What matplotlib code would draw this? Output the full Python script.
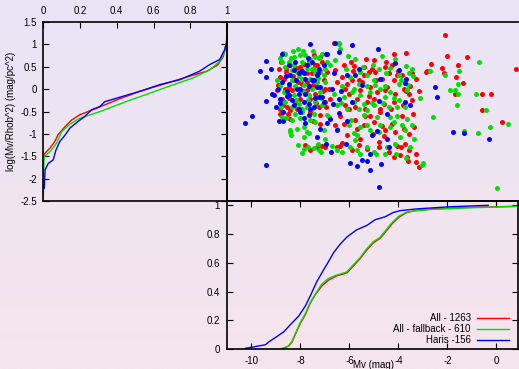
import matplotlib
matplotlib.use("Agg")
import matplotlib.pyplot as plt
import numpy as np
from matplotlib.ticker import FuncFormatter

plt.rcParams["font.family"] = ["Liberation Sans", "DejaVu Sans"]
plt.rcParams["font.size"] = 7

RED = "#ff0000"
GREEN = "#00e000"
BLUE = "#0000ff"

labels = ["All - 1263", "All - fallback - 610", "Haris -156"]

# scatter: Mv (mag) vs log(Mv/Rhob^2)
red_x = [-2.08, -2.03, -1.20, 0.78, -2.67, -2.21, -1.55, -2.16, -1.67, -1.37, -1.69, -0.59, -0.21, -0.57, -2.84, 0.24,
         -6.62, -5.31, -4.20, -3.69, -2.88, -6.21, -5.83, -5.42, -5.01, -4.54, -4.27, -3.86, -3.45, -3.27, -3.52, -3.76,
         -3.18, -6.58, -6.31, -6.10, -5.90, -5.63, -5.42, -5.22, -4.95, -4.67, -4.40, -4.20, -4.06, -5.56, -5.15, -4.88,
         -4.54, -4.13, -3.59, -6.03, -5.69, -5.29, -5.01, -4.61, -4.20, -3.82, -3.45, -6.17, -5.76, -5.35, -4.74, -6.85,
         -6.51, -6.78,
         -6.58, -6.24, -5.76, -5.42, -5.01, -4.67, -4.27, -3.79, -3.35, -4.06, -3.59, -3.27, -3.95, -4.20, -5.29, -5.90,
         -6.51, -6.37, -5.56, -4.81, -4.40, -3.65, -6.10, -5.18, -4.54, -3.72,
         -8.82, -8.44, -7.49, -7.19, -7.80, -7.33, -7.12, -7.19,
         -8.82, -8.69, -8.58, -8.41, -8.21, -8.07, -7.87, -7.33, -7.12, -8.62, -8.35, -7.94, -7.73, -7.39, -6.99, -8.82,
         -8.55, -8.21, -8.01, -7.60, -7.26, -7.00, -8.41, -8.96, -8.76, -7.53, -7.73, -8.28, -8.48, -7.05, -6.92, -8.89,
         -7.46, -7.19,
         -8.90, -8.70, -8.60, -8.45, -8.30, -8.15, -8.00, -7.90, -7.75, -7.60, -7.50, -7.35, -7.20, -7.10, -6.95, -8.80,
         -8.50, -8.10, -7.65, -7.40,
         -6.40, -6.20, -6.00, -5.85, -5.70, -5.50, -5.35, -5.20, -5.05, -4.90, -4.75, -4.60, -4.45, -4.30, -4.15, -4.00,
         -3.85, -3.70, -3.55, -3.40, -5.95, -5.10, -4.50, -3.90, -4.80, -5.60, -6.30, -7.00, -7.60, -3.30, -3.60, -3.15]
red_y = [1.22, 0.73, 0.72, 0.45, 0.57, 0.48, 0.55, 0.36, 0.27, 0.14, -0.12, -0.10, -0.10, -0.46, 0.40, -0.73,
         1.04, 0.68, 0.79, 0.81, 0.38, 0.55, 0.51, 0.49, 0.64, 0.49, 0.53, 0.31, 0.37, 0.22, 0.08, 0.01,
         -0.05, 0.42, 0.27, 0.12, 0.20, 0.20, 0.31, 0.38, 0.38, 0.23, 0.35, 0.20, 0.31, -0.03, 0.05, -0.06,
         -0.03, -0.10, -0.10, -0.10, -0.21, -0.29, -0.21, -0.33, -0.29, -0.36, -0.25, -0.36, -0.40, -0.45, -0.44, 0.01,
         0.16, -0.21,
         -0.81, -0.77, -0.70, -0.81, -0.73, -0.82, -0.77, -0.88, -0.85, -1.26, -1.37, -1.63, -1.48, -1.52, -1.33, -1.37,
         -1.29, -1.28, -1.12, -1.18, -1.41, -1.52, -1.03, -0.60, -0.92, -1.22,
         -0.55, -0.66, -0.72, -0.79, -1.24, -1.29, -1.26, -0.58,
         0.27, 0.23, 0.38, 0.53, 0.49, 0.46, 0.57, 0.53, 0.61, 0.01, -0.03, 0.12, -0.03, -0.10, 0.01, -0.45,
         -0.40, -0.29, -0.21, -0.21, -0.40, -0.29, -0.47, -0.03, -0.21, 0.35, 0.16, 0.20, 0.05, 0.20, 0.38, 0.46,
         0.76, 0.72,
         0.10, -0.35, 0.45, -0.20, 0.30, -0.45, 0.50, -0.05, 0.35, -0.50, 0.10, -0.30, 0.40, -0.05, -0.40, 0.60,
         -0.55, 0.15, 0.62, 0.55,
         -0.60, 0.00, -0.45, 0.40, -0.90, 0.15, -0.60, -0.15, -1.00, 0.20, -0.50, -1.05, 0.05, -0.45, -0.95, 0.40,
         -0.60, -0.05, -1.00, -0.55, 0.60, 0.45, 0.60, -1.30, -1.30, -1.25, -1.20, -1.30, -1.35, -1.45, -1.60, -1.75]

green_x = [-8.12, -8.62, -8.76, -8.28, -8.01, -7.80, -7.60, -7.39, -7.12, -7.94, -7.67, -8.35, -8.14, -7.46, -7.19,
           -8.55, -8.35, -7.94, -7.60, -7.33, -7.05, -8.55, -8.28, -7.87, -7.53, -7.19, -7.67, -8.07, -7.73, -7.39,
           -7.12, -8.35, -7.94, -7.53, -8.62, -8.69, -8.82, -8.21, -7.39, -7.73, -6.92, -6.99, -8.48, -8.28, -6.42,
           -8.70,
           -8.76, -8.41, -8.39, -8.44, -8.14, -7.87, -7.73, -7.84, -7.67, -7.94, -7.87, -7.44, -7.26, -7.30, -7.05,
           -6.99, -8.21, -7.39, -8.35, -7.60, -6.92,
           -6.41, -6.37, -6.07, -5.76, -4.67, -3.69, -3.11, -6.78, -6.58, -5.04, -4.33, -3.99, -3.58, -5.29, -5.56,
           -5.97, -6.31, -5.63, -5.29, -5.01, -4.54, -3.99, -3.65, -4.33, -4.74, -5.15, -5.56, -5.90, -6.24, -5.83,
           -5.42, -5.01, -4.54, -3.99, -4.06, -4.40, -5.29, -6.10, -6.51, -6.65, -4.81, -4.13, -3.45, -3.41,
           -6.85, -6.71, -6.31, -5.97, -5.76, -5.69, -5.56, -5.01, -4.54, -4.13, -3.93, -3.72, -3.35, -3.52, -3.04,
           -3.00, -6.03, -5.56, -5.15, -4.74, -4.20, -3.86, -5.83, -5.42, -4.88, -4.33, -3.65, -6.51,
           -2.57, -1.34, -0.77, -0.28, 0.46, 0.02,
           -0.73, -2.70, -2.09, -1.52, -1.57, -1.88, -1.68, -1.55, -0.82, -1.59, -0.44,
           -8.95, -8.80, -8.65, -8.50, -8.40, -8.20, -8.05, -7.95, -7.85, -7.70, -7.55, -7.45, -7.30, -7.15, -7.00,
           -8.30, -7.90, -7.50, -8.60, -8.00, -7.25, -8.85,
           -6.35, -6.15, -5.95, -5.80, -5.60, -5.45, -5.30, -5.10, -4.95, -4.80, -4.65, -4.50, -4.35, -4.20, -4.05,
           -3.90, -3.75, -3.60, -3.45, -5.70, -5.30, -4.90, -4.45, -6.50, -7.15, -7.70, -8.10, -4.10, -3.70]
green_y = [0.90, 0.79, 0.61, 0.72, 0.76, 0.76, 0.68, 0.72, 0.79, 0.61, 0.57, 0.42, 0.38, 0.46, 0.38,
           0.31, 0.20, 0.23, 0.23, 0.16, 0.31, -0.06, -0.14, -0.06, 0.01, -0.06, -0.14, -0.33, -0.40, -0.29,
           -0.36, -0.40, -0.45, -0.45, -0.29, -0.06, 0.08, 0.08, 0.35, 0.46, 0.61, 0.46, 0.61, 0.53, 1.01,
           0.80,
           -0.62, -0.96, -1.03, -0.92, -0.88, -0.85, -0.96, -1.07, -0.99, -1.42, -1.33, -1.32, -1.37, -1.22, -0.92,
           -1.11, -0.55, -0.73, -0.70, -0.70, -0.58,
           1.02, 0.90, 0.74, 0.67, 0.74, 0.51, -0.20, 0.53, 0.64, 0.53, 0.47, 0.31, 0.35, 0.31, 0.38,
           0.27, 0.08, 0.12, 0.08, 0.20, 0.08, 0.12, -0.03, -0.06, 0.01, -0.06, -0.14, -0.06, -0.18, -0.29,
           -0.33, -0.36, -0.18, -0.25, -0.40, -0.40, -0.47, -0.44, -0.36, -0.10, 0.46, 0.68, 0.46, 0.29,
           -0.62, -1.26, -1.40, -1.29, -1.14, -1.03, -1.44, -1.40, -1.44, -1.22, -1.07, -0.92, -1.11, -1.29, -1.70,
           -1.64, -0.81, -0.85, -0.92, -0.81, -0.73, -0.81, -0.99, -0.58, -0.62, -0.62, -0.66, -0.88,
           -0.63, -0.94, -0.98, -0.85, -0.77, -2.21,
           0.61, 0.40, 0.31, 0.40, 0.12, -0.03, -0.03, -0.12, -0.12, -0.35, -0.47,
           0.20, -0.40, 0.50, -0.10, 0.70, -0.25, 0.30, -0.50, 0.10, -0.25, 0.45, -0.55, 0.25, -0.20, 0.15,
           0.85, 0.85, 0.85, -0.65, -0.65, 0.70, 0.70,
           -0.30, 0.45, -0.70, 0.00, -0.45, 0.50, -0.80, -0.30, 0.10, -0.95, -0.30, 0.35, -0.85, -0.20, -0.60,
           0.20, -0.40, 0.10, -0.80, -1.35, -1.30, -1.45, -1.30, -1.35, -1.40, -1.30, -1.25, -1.45, -1.55]

blue_x = [-7.60, -8.74, -9.42, -9.64, -9.39, -9.19, -9.16, -9.07, -9.42, -8.82, -8.85, -8.55, -8.76, -8.41, -8.28,
          -8.07, -7.80, -7.46, -7.26, -7.05, -6.96, -8.01, -7.67, -7.33, -7.12, -8.48, -8.07, -7.87, -8.28, -7.46,
          -8.07, -7.67, -7.26, -7.05, -8.48, -7.73, -7.53, -8.21, -7.87, -7.33,
          -6.58, -6.44, -5.91, -4.85, -4.13, -3.99, -6.92, -6.65, -6.10, -5.76, -5.63, -5.49, -4.74, -3.68, -3.72,
          -6.71, -6.35, -6.44, -5.90, -4.81, -6.67, -3.72, -3.54,
          -6.44, -6.78, -6.51, -6.10, -5.08, -4.88, -4.47, -4.40, -6.75, -6.14, -5.15, -5.99, -5.69, -5.49, -5.29,
          -4.71, -5.18, -4.80, -4.47,
          -9.98, -10.27, -9.42, -8.89, -8.71, -7.87, -7.67, -7.80, -7.33, -7.22, -6.97, -6.92,
          -1.79, -1.31, -0.32, -2.50, -2.43,
          -8.90, -8.70, -8.60, -8.35, -8.20, -8.00, -7.95, -7.80, -7.55, -7.40, -7.20, -8.45, -7.60, -8.15, -7.70,
          -9.00, -8.55, -7.30]
blue_y = [1.00, 0.79, 0.62, 0.41, 0.28, 0.44, -0.10, -0.14, -0.27, -0.23, -0.30, -0.16, 0.16, 0.31, 0.42,
          0.35, 0.23, 0.20, 0.46, 0.53, 0.79, 0.01, 0.08, 0.05, -0.18, -0.14, -0.10, -0.29, -0.36, -0.40,
          -0.44, -0.33, -0.18, -0.29, 0.12, 0.53, 0.61, 0.61, 0.35, 0.31,
          1.04, 0.84, 0.98, 0.90, 0.59, 0.43, 0.79, 0.35, 0.31, 0.31, 0.46, 0.10, 0.22, 0.22, 0.14,
          0.01, -0.05, -0.21, -0.29, -0.27, -0.33, -0.29, -0.36,
          -0.53, -0.66, -0.92, -0.72, -1.02, -0.94, -1.11, -1.29, -1.40, -1.23, -1.44, -1.64, -1.72, -1.59, -1.61,
          -1.67, -1.81, -2.19, -0.55,
          -0.60, -0.75, -1.69, -0.72, -0.72, -0.64, -0.57, -0.75, -1.07, -0.90, -1.22, -0.75,
          -0.96, -0.99, -1.11, 0.055, -0.18,
          0.00, -0.50, 0.30, -0.25, 0.20, -0.50, 0.40, -0.10, 0.20, -0.20, 0.05, 0.55, -0.45, 0.00, 0.70,
          -0.40, -0.05, 0.35]

# cumulative distributions of log(Mv/Rhob^2) (fraction, value)
red_cum_f = [0.0, 0.005, 0.036, 0.063, 0.08, 0.118, 0.154, 0.2, 0.27, 0.4, 0.525, 0.67, 0.78, 0.89, 0.95, 0.98, 0.996, 1.0]
red_cum_v = [-1.6, -1.45, -1.32, -1.17, -1.02, -0.84, -0.69, -0.57, -0.46, -0.24, -0.05, 0.13, 0.27, 0.40, 0.54, 0.73, 1.03, 1.2]
green_cum_f = [0.0, 0.004, 0.036, 0.072, 0.1, 0.145, 0.2, 0.31, 0.45, 0.58, 0.71, 0.815, 0.906, 0.96, 0.987, 0.996]
green_cum_v = [-2.5, -1.51, -1.40, -1.21, -0.95, -0.78, -0.65, -0.50, -0.28, -0.09, 0.10, 0.25, 0.43, 0.62, 0.81, 0.99]
blue_cum_f = [0.005, 0.01, 0.027, 0.054, 0.069, 0.09, 0.118, 0.145, 0.19, 0.226, 0.263, 0.308, 0.335, 0.417,
              0.525, 0.634, 0.743, 0.851, 0.906, 0.96, 0.987, 0.996]
blue_cum_v = [-2.22, -1.80, -1.66, -1.58, -1.36, -1.17, -1.03, -0.87, -0.72, -0.61, -0.46, -0.39, -0.28, -0.18,
              -0.05, 0.10, 0.21, 0.40, 0.55, 0.66, 0.88, 1.01]

# cumulative distributions of Mv (mag, fraction)
red_mv = [-8.78, -8.48, -8.34, -8.14, -8.0, -7.80, -7.60, -7.39, -7.12, -6.85, -6.51, -6.10, -5.83, -5.56, -5.29,
          -5.02, -4.75, -4.55, -4.27, -3.96, -3.66, -3.26, -2.58, -1.22, 0.88]
red_mv_f = [0.0, 0.02, 0.05, 0.13, 0.18, 0.24, 0.32, 0.38, 0.44, 0.48, 0.51, 0.53, 0.58, 0.63, 0.69,
            0.74, 0.77, 0.81, 0.87, 0.92, 0.95, 0.965, 0.975, 0.985, 0.993]
green_mv = [-8.80, -8.50, -8.36, -8.15, -8.02, -7.82, -7.61, -7.40, -7.14, -6.87, -6.52, -6.12, -5.85, -5.57, -5.31,
            -5.04, -4.77, -4.57, -4.29, -3.98, -3.68, -3.28, -2.60, -1.24, 0.88]
green_mv_f = [0.0, 0.02, 0.05, 0.13, 0.18, 0.24, 0.32, 0.38, 0.45, 0.49, 0.515, 0.535, 0.585, 0.635, 0.695,
              0.745, 0.775, 0.815, 0.875, 0.925, 0.952, 0.963, 0.972, 0.982, 0.993]
blue_mv = [-10.24, -9.9, -9.43, -9.29, -9.02, -8.68, -8.41, -8.07, -7.80, -7.60, -7.33, -7.06, -6.85, -6.65, -6.38,
           -6.10, -5.70, -5.29, -4.95, -4.55, -4.21, -3.93, -3.26, -1.90, -0.34]
blue_mv_f = [0.005, 0.015, 0.03, 0.05, 0.08, 0.12, 0.17, 0.23, 0.30, 0.37, 0.47, 0.55, 0.61, 0.67, 0.73,
             0.78, 0.83, 0.86, 0.90, 0.92, 0.95, 0.963, 0.975, 0.99, 1.0]

W, H = 519, 369
fig = plt.figure(figsize=(W / 100, H / 100), dpi=100)

# background gradient
bg = fig.add_axes([0, 0, 1, 1], zorder=-10)
top = np.array([233, 229, 246]) / 255
bot = np.array([245, 228, 236]) / 255
t = np.linspace(0, 1, 256)[:, None]
grad = top[None, :] * (1 - t) + bot[None, :] * t
bg.imshow(grad[:, None, :], aspect="auto", extent=[0, 1, 0, 1])
bg.axis("off")


def pos(x0, y0, x1, y1):
    return [x0 / W, 1 - y1 / H, (x1 - x0) / W, (y1 - y0) / H]


fmt = FuncFormatter(lambda v, p: "%g" % v)
spine_w = 1.2

# top-left: cumulative fraction vs log value
ax1 = fig.add_axes(pos(43.3, 22, 227, 201))
ax1.set_facecolor("none")
ax1.plot(red_cum_f, red_cum_v, color=RED, lw=1)
ax1.plot(green_cum_f, green_cum_v, color=GREEN, lw=1)
ax1.plot(blue_cum_f, blue_cum_v, color=BLUE, lw=1)
ax1.set_xlim(0, 1)
ax1.set_ylim(-2.5, 1.5)
ax1.set_xticks(np.arange(0, 1.01, 0.2))
ax1.set_yticks(np.arange(-2.5, 1.51, 0.5))
ax1.xaxis.set_major_formatter(fmt)
ax1.yaxis.set_major_formatter(fmt)
ax1.tick_params(direction="in", length=4, width=0.8, top=True, bottom=False, labeltop=True,
                labelbottom=False, left=True, right=True, pad=4.5)
ax1.set_ylabel("log(Mv/Rhob^2) (mag/pc^2)", labelpad=3)

# top-right: scatter
ax2 = fig.add_axes(pos(227, 22, 518, 201))
ax2.set_facecolor("none")
ax2.plot(red_x, red_y, "o", color=RED, ms=3.6, mew=0)
ax2.plot(green_x, green_y, "o", color=GREEN, ms=3.6, mew=0)
ax2.plot(blue_x, blue_y, "o", color=BLUE, ms=3.6, mew=0)
ax2.set_xlim(-11, 0.88)
ax2.set_ylim(-2.5, 1.5)
ax2.set_xticks([])
ax2.set_yticks([])
ax2.spines["right"].set_visible(False)

# bottom-right: cumulative Mv
ax3 = fig.add_axes(pos(227, 201, 518, 349))
ax3.set_facecolor("none")
ax3.plot(red_mv, red_mv_f, color=RED, lw=1)
ax3.plot(green_mv, green_mv_f, color=GREEN, lw=1)
ax3.plot(blue_mv, blue_mv_f, color=BLUE, lw=1)
ax3.set_xlim(-11, 0.88)
ax3.set_ylim(0, 1.03)
ax3.set_xticks(np.arange(-10, 0.1, 2))
ax3.set_yticks(np.arange(0, 1.01, 0.2))
ax3.xaxis.set_major_formatter(fmt)
ax3.yaxis.set_major_formatter(fmt)
ax3.tick_params(direction="in", length=4, width=0.8, top=True, right=True, pad=5)
ax3.set_xlabel("Mv (mag)", va="center")
ax3.xaxis.set_label_coords(0.502, -0.105)

# legend, gnuplot style (text right aligned, sample line to its right)
for row, (lab, col) in enumerate(zip(labels, [RED, GREEN, BLUE])):
    yy = 0.2115 - row * 0.0745
    ax3.text(0.8375, yy, lab, transform=ax3.transAxes, ha="right", va="center")
    ax3.plot([0.859, 0.969], [yy, yy], transform=ax3.transAxes, color=col, lw=1)

for ax in (ax1, ax2, ax3):
    for s in ax.spines.values():
        s.set_linewidth(spine_w)

fig.savefig("out.png", dpi=100)
